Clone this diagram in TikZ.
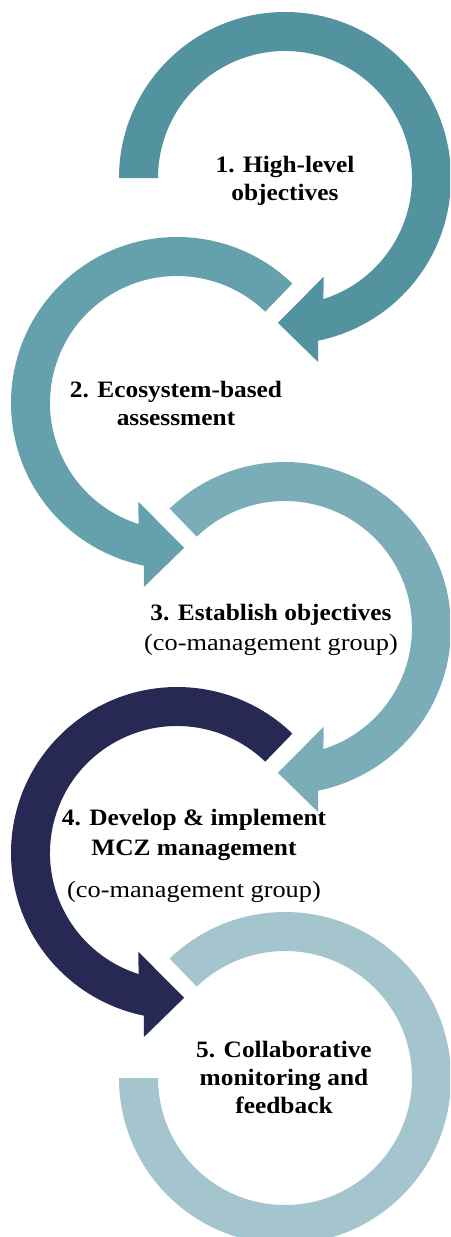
\documentclass[tikz,border=0pt]{standalone}
\usepackage{fontspec}
\setmainfont{Liberation Serif}
\newfontfamily\lblbold[FakeStretch=1.08]{Liberation Serif}
\newfontfamily\lblreg[FakeStretch=1.12]{Liberation Serif}
\definecolor{ringA}{RGB}{83,147,160}
\definecolor{ringB}{RGB}{101,161,173}
\definecolor{ringC}{RGB}{123,173,185}
\definecolor{ringD}{RGB}{39,40,83}
\definecolor{ringE}{RGB}{164,197,206}
\tikzset{
  lbl/.style={anchor=base,inner sep=0pt,font=\lblbold\fontsize{23.5}{28}\selectfont\bfseries},
  lblr/.style={anchor=base,inner sep=0pt,font=\lblreg\fontsize{23.5}{28}\selectfont}
}
\begin{document}
\begin{tikzpicture}[x=1pt,y=1pt]
\useasboundingbox (0,0) rectangle (450,-1237);
\fill[white] (0,0) rectangle (450,-1237);
\clip (0,0) rectangle (450,-1237);
% ring 1
\begin{scope}[shift={(285,-178)}]
\fill[ringA] (180:166) arc[start angle=180, end angle=-78.5, radius=166]
  -- (-79.8:187) -- (-92.8:145) -- (-68.6:106) -- (-72.4:127)
  arc[start angle=-72.4, end angle=180, radius=127] -- cycle;
\end{scope}
% ring 2
\begin{scope}[shift={(177,-403)}]
\fill[ringB] (46:166) arc[start angle=46, end angle=258.5, radius=166]
  -- (259.8:187) -- (272.8:145) -- (248.6:106) -- (252.4:127)
  arc[start angle=252.4, end angle=46, radius=127] -- cycle;
\end{scope}
% ring 3
\begin{scope}[shift={(285,-628)}]
\fill[ringC] (134:166) arc[start angle=134, end angle=-78.5, radius=166]
  -- (-79.8:187) -- (-92.8:145) -- (-68.6:106) -- (-72.4:127)
  arc[start angle=-72.4, end angle=134, radius=127] -- cycle;
\end{scope}
% ring 4
\begin{scope}[shift={(177,-853)}]
\fill[ringD] (46:166) arc[start angle=46, end angle=258.5, radius=166]
  -- (259.8:187) -- (272.8:145) -- (248.6:106) -- (252.4:127)
  arc[start angle=252.4, end angle=46, radius=127] -- cycle;
\end{scope}
% ring 5
\begin{scope}[shift={(285,-1078)}]
\fill[ringE] (134:166) arc[start angle=134, end angle=-180, radius=166]
  -- (-180:127) arc[start angle=-180, end angle=134, radius=127] -- cycle;
\end{scope}
% labels
\node[lbl] (t1a) at (285,-172) {1. High-level};
\node[lbl] (t1b) at (285,-200) {objectives};
\node[lbl] (t2a) at (176,-397) {2. Ecosystem-based};
\node[lbl] (t2b) at (176,-425) {assessment};
\node[lbl] (t3a) at (271,-620) {3. Establish objectives};
\node[lblr] (t3b) at (271,-650) {(co-management group)};
\node[lbl] (t4a) at (194,-825) {4. Develop \& implement};
\node[lbl] (t4b) at (194,-855) {MCZ management};
\node[lblr] (t4c) at (194,-897) {(co-management group)};
\node[lbl] (t5a) at (284,-1057) {5. Collaborative};
\node[lbl] (t5b) at (284,-1085) {monitoring and};
\node[lbl] (t5c) at (284,-1113) {feedback};
\end{tikzpicture}
\end{document}
